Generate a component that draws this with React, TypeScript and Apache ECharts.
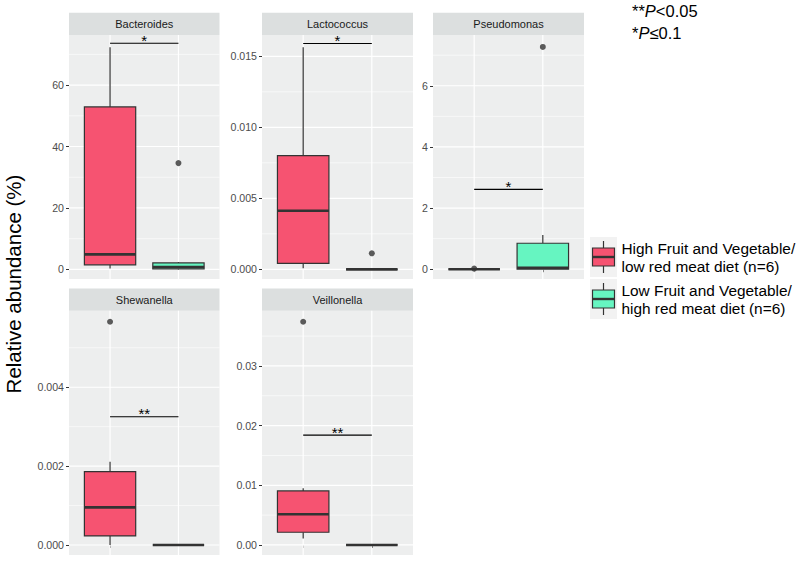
import React, { useEffect, useRef } from "react";
import * as echarts from "echarts";

const genera = ["Bacteroides", "Lactococcus", "Pseudomonas", "Shewanella", "Veillonella"];
const groupNames = [
  ["High Fruit and Vegetable/", "low red meat diet (n=6)"],
  ["Low Fruit and Vegetable/", "high red meat diet (n=6)"],
];
// [lower whisker, Q1, median, Q3, upper whisker]
const highFVStats = [
  [0.3, 1.5, 4.9, 52.9, 72.3],
  [0.00007, 0.00042, 0.00413, 0.008, 0.01563],
  [0, 0, 0, 0, 0],
  [0, 0.00023, 0.000955, 0.00186, 0.00211],
  [0.0011, 0.00213, 0.00514, 0.00905, 0.0095],
];
const lowFVStats = [
  [0, 0.2, 0.8, 2.1, 2.4],
  [0, 0, 0, 0, 0],
  [0, 0, 0.05, 0.85, 1.12],
  [0, 0, 0, 0, 0],
  [0, 0, 0, 0, 0],
];
const highFVOutliers = [[], [], [0.02], [0.00566], [0.0374]];
const lowFVOutliers = [[34.6], [0.00113], [7.27], [], []];
const sigLevels = [73.6, 0.0159, 2.61, 0.00325, 0.0184];
const sigLabels = ["*", "*", "*", "**", "**"];
const yTicks = [
  [0, 20, 40, 60],
  [0, 0.005, 0.01, 0.015],
  [0, 2, 4, 6],
  [0, 0.002, 0.004],
  [0, 0.01, 0.02, 0.03],
];
const yTickLabels = [
  ["0", "20", "40", "60"],
  ["0.000", "0.005", "0.010", "0.015"],
  ["0", "2", "4", "6"],
  ["0.000", "0.002", "0.004"],
  ["0.00", "0.01", "0.02", "0.03"],
];
const yMinorTicks = [
  [10, 30, 50, 70],
  [0.0025, 0.0075, 0.0125],
  [1, 3, 5, 7],
  [0.001, 0.003, 0.005],
  [0.005, 0.015, 0.025, 0.035],
];
const yRanges = [
  [-3.12, 76.3],
  [-0.00068, 0.0165],
  [-0.32, 7.66],
  [-0.000253, 0.00594],
  [-0.00168, 0.03925],
];
const xPositions = [1, 2];

const FONT = "'Liberation Sans', Arial, Helvetica, sans-serif";
const RED = "#F65371";
const GREEN = "#66F5C1";
const groupColors = [RED, GREEN];
const PANEL_BG = "#EDEEEE";
const STRIP_BG = "#DCDFDF";

const layout = [
  { left: 69, top: 35, width: 150.5, height: 244 },
  { left: 262, top: 35, width: 151, height: 244 },
  { left: 433, top: 35, width: 151, height: 244 },
  { left: 69, top: 310.7, width: 150.5, height: 244.3 },
  { left: 262, top: 310.7, width: 151, height: 244.3 },
];
const showXTicks = [false, false, true, true, true];
const STRIP_H = 22.3;

export default function App() {
  const ref = useRef<HTMLDivElement>(null);
  useEffect(() => {
    if (!ref.current) return;
    const chart = echarts.init(ref.current, undefined, { renderer: "svg" });

    const grids: any[] = [];
    const xAxes: any[] = [];
    const yAxes: any[] = [];
    const series: any[] = [];
    const graphics: any[] = [];

    genera.forEach((g, i) => {
      const L = layout[i];
      grids.push({
        left: L.left,
        top: L.top,
        width: L.width,
        height: L.height,
        show: true,
        backgroundColor: PANEL_BG,
        borderWidth: 0,
      });
      xAxes.push({
        gridIndex: i,
        type: "value",
        min: 0.4,
        max: 2.6,
        axisLine: { show: false },
        splitLine: { show: false },
        axisLabel: { show: false },
        axisTick: {
          show: showXTicks[i],
          length: 3,
          customValues: xPositions,
          lineStyle: { color: "#333", width: 1 },
        },
      });
      const ticks = yTicks[i];
      const labels = yTickLabels[i];
      yAxes.push({
        gridIndex: i,
        type: "value",
        min: yRanges[i][0],
        max: yRanges[i][1],
        axisLine: { show: false },
        splitLine: { show: false },
        axisTick: {
          show: true,
          length: 3,
          customValues: ticks,
          lineStyle: { color: "#333", width: 1 },
        },
        axisLabel: {
          customValues: ticks,
          margin: 5,
          fontSize: 10.6,
          color: "#4D4D4D",
          fontFamily: FONT,
          formatter: (v: number) => {
            const idx = ticks.findIndex((t) => Math.abs(t - v) < 1e-9);
            return idx >= 0 ? labels[idx] : "";
          },
        },
      });

      // grid lines
      const gridData: any[] = [];
      yTicks[i].forEach((v) => gridData.push([0, v, 1]));
      yMinorTicks[i].forEach((v) => gridData.push([0, v, 0]));
      xPositions.forEach((v) => gridData.push([1, v, 1]));
      series.push({
        type: "custom",
        xAxisIndex: i,
        yAxisIndex: i,
        z: 1,
        silent: true,
        data: gridData,
        renderItem: (params: any, api: any) => {
          const kind = api.value(0);
          const v = api.value(1);
          const major = api.value(2) === 1;
          let p1, p2;
          if (kind === 0) {
            p1 = api.coord([0.4, v]);
            p2 = api.coord([2.6, v]);
          } else {
            p1 = api.coord([v, yRanges[i][0]]);
            p2 = api.coord([v, yRanges[i][1]]);
          }
          return {
            type: "line",
            shape: { x1: p1[0], y1: p1[1], x2: p2[0], y2: p2[1] },
            style: { stroke: "#FFFFFF", lineWidth: major ? 1.2 : 0.6 },
          };
        },
      });

      // boxes
      const boxData = [
        [1, ...highFVStats[i], 0],
        [2, ...lowFVStats[i], 1],
      ];
      series.push({
        type: "custom",
        xAxisIndex: i,
        yAxisIndex: i,
        z: 3,
        data: boxData,
        renderItem: (params: any, api: any) => {
          const x = api.value(0);
          const pLo = api.coord([x, api.value(1)]);
          const pQ1 = api.coord([x, api.value(2)]);
          const pMed = api.coord([x, api.value(3)]);
          const pQ3 = api.coord([x, api.value(4)]);
          const pHi = api.coord([x, api.value(5)]);
          const color = groupColors[api.value(6)];
          const hw = api.size([0.75, 0])[0] / 2;
          const cx = pMed[0];
          const st = { stroke: "#333333", lineWidth: 1.2 };
          return {
            type: "group",
            children: [
              { type: "line", shape: { x1: cx, y1: pHi[1], x2: cx, y2: pQ3[1] }, style: st },
              { type: "line", shape: { x1: cx, y1: pQ1[1], x2: cx, y2: pLo[1] }, style: st },
              {
                type: "rect",
                shape: { x: cx - hw, y: pQ3[1], width: hw * 2, height: pQ1[1] - pQ3[1] },
                style: { fill: color, stroke: "#333333", lineWidth: 1.2 },
              },
              {
                type: "line",
                shape: { x1: cx - hw, y1: pMed[1], x2: cx + hw, y2: pMed[1] },
                style: { stroke: "#333333", lineWidth: 2.6 },
              },
            ],
          };
        },
      });

      // outliers
      const outl: any[] = [];
      highFVOutliers[i].forEach((v) => outl.push([1, v]));
      lowFVOutliers[i].forEach((v) => outl.push([2, v]));
      series.push({
        type: "scatter",
        xAxisIndex: i,
        yAxisIndex: i,
        z: 4,
        symbol: "circle",
        symbolSize: 6,
        itemStyle: { color: "#333333" },
        data: outl,
      });

      // significance bar
      series.push({
        type: "custom",
        xAxisIndex: i,
        yAxisIndex: i,
        z: 5,
        data: [[1, 2, sigLevels[i]]],
        renderItem: (params: any, api: any) => {
          const p1 = api.coord([api.value(0), api.value(2)]);
          const p2 = api.coord([api.value(1), api.value(2)]);
          return {
            type: "group",
            children: [
              {
                type: "line",
                shape: { x1: p1[0], y1: p1[1], x2: p2[0], y2: p2[1] },
                style: { stroke: "#000000", lineWidth: 1.1 },
              },
              {
                type: "text",
                x: (p1[0] + p2[0]) / 2,
                y: p1[1] - 3,
                style: {
                  text: sigLabels[i],
                  fill: "#000000",
                  fontSize: 15,
                  fontFamily: FONT,
                  align: "center",
                  verticalAlign: "middle",
                  textAlign: "center",
                  textVerticalAlign: "middle",
                },
              },
            ],
          };
        },
      });

      // strip
      graphics.push({
        type: "rect",
        shape: { x: L.left, y: L.top - STRIP_H, width: L.width, height: STRIP_H },
        style: { fill: STRIP_BG },
        silent: true,
      });
      graphics.push({
        type: "text",
        x: L.left + L.width / 2,
        y: L.top - STRIP_H / 2,
        style: {
          text: g,
          fill: "#1A1A1A",
          fontSize: 11,
          fontFamily: FONT,
          align: "center",
          verticalAlign: "middle",
          textAlign: "center",
          textVerticalAlign: "middle",
        },
      });
    });

    // y axis title
    graphics.push({
      type: "text",
      x: 13,
      y: 284,
      rotation: Math.PI / 2,
      style: {
        text: "Relative abundance (%)",
        fill: "#000000",
        fontSize: 20.5,
        fontFamily: FONT,
        align: "center",
        verticalAlign: "middle",
        textAlign: "center",
        textVerticalAlign: "middle",
      },
    });

    // p-value note
    const noteLines = [
      "{n|**}{i|P}{n|<0.05}",
      "{n|*}{i|P}{n|\u22640.1}",
    ];
    const noteY = [10.5, 33];
    noteLines.forEach((t, k) => {
      graphics.push({
        type: "text",
        x: 632,
        y: noteY[k],
        style: {
          text: t,
          fill: "#000",
          fontSize: 16.5,
          fontFamily: FONT,
          align: "left",
          verticalAlign: "middle",
          textAlign: "left",
          textVerticalAlign: "middle",
          rich: {
            n: { fontSize: 16.5, fontFamily: FONT, fill: "#000" },
            i: { fontSize: 16.5, fontFamily: FONT, fontStyle: "italic", fill: "#000" },
          },
        },
      });
    });

    // legend
    const keyCenters = [257, 299];
    const keyX = 591;
    const keyW = 25;
    groupNames.forEach((lines, k) => {
      const cy = keyCenters[k];
      const cx = keyX + keyW / 2;
      graphics.push({
        type: "rect",
        shape: { x: keyX - 1, y: cy - 20, width: keyW + 2, height: 40 },
        style: { fill: "#F2F2F2" },
      });
      graphics.push({
        type: "line",
        shape: { x1: cx, y1: cy - 16, x2: cx, y2: cy + 16 },
        style: { stroke: "#333333", lineWidth: 1.2 },
      });
      graphics.push({
        type: "rect",
        shape: { x: keyX + 1.5, y: cy - 9, width: keyW - 3, height: 18 },
        style: { fill: groupColors[k], stroke: "#333333", lineWidth: 1.2 },
      });
      graphics.push({
        type: "line",
        shape: { x1: keyX + 1.5, y1: cy, x2: keyX + keyW - 1.5, y2: cy },
        style: { stroke: "#333333", lineWidth: 2.4 },
      });
      lines.forEach((ln, j) => {
        graphics.push({
          type: "text",
          x: 621.5,
          y: cy - 9 + j * 18.5,
          style: {
            text: ln,
            fill: "#000",
            fontSize: 15.4,
            fontFamily: FONT,
            align: "left",
            verticalAlign: "middle",
            textAlign: "left",
            textVerticalAlign: "middle",
          },
        });
      });
    });

    chart.setOption({
      animation: false,
      backgroundColor: "#FFFFFF",
      grid: grids,
      xAxis: xAxes,
      yAxis: yAxes,
      series,
      graphic: { elements: graphics },
    });
    return () => chart.dispose();
  }, []);
  return <div ref={ref} style={{ width: 798, height: 564, position: "absolute", left: 0, top: 0 }} />;
}
